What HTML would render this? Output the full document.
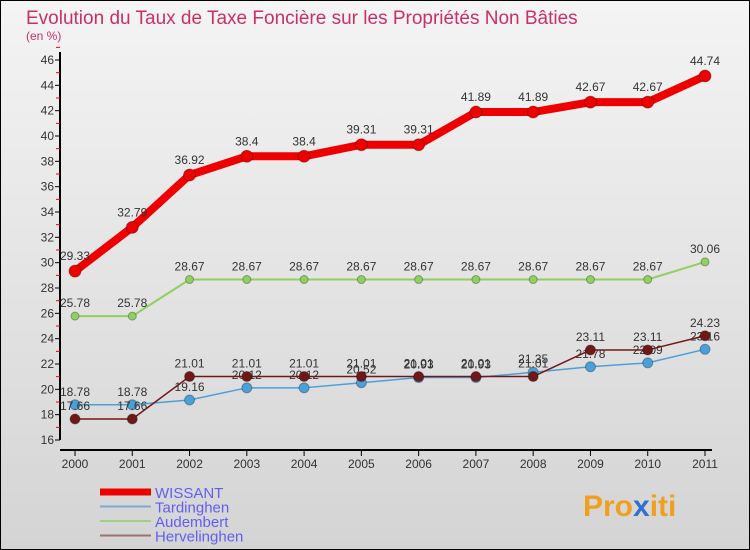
<!DOCTYPE html>
<html><head><meta charset="utf-8"><style>
body{margin:0;}
#wrap{width:750px;height:550px;position:relative;overflow:hidden;}
svg text{font-family:"Liberation Sans",sans-serif;}
</style></head><body>
<div id="wrap">
<svg id="chart" width="750" height="550">
<defs><linearGradient id="bg" x1="0" y1="0" x2="0" y2="1"><stop offset="0" stop-color="#f4f4f4"/><stop offset="1" stop-color="#d4d4d4"/></linearGradient></defs>
<rect x="0.5" y="0.5" width="749" height="549" fill="url(#bg)" stroke="#000"/>
<text x="26" y="24" font-size="19" fill="#c8306a">Evolution du Taux de Taxe Foncière sur les Propriétés Non Bâties</text>
<text x="26" y="40" font-size="12" fill="#c8306a">(en %)</text>
<g id="axes"></g><g id="series"></g><g id="legend"></g>
<text x="583" y="516" font-size="30" font-weight="bold" fill="#f0a020">Pro<tspan fill="#3070d0">x</tspan>iti</text>
</svg></div>
<script>
const years=["2000","2001","2002","2003","2004","2005","2006","2007","2008","2009","2010","2011"];
const wissant=[29.33,32.79,36.92,38.4,38.4,39.31,39.31,41.89,41.89,42.67,42.67,44.74];
const tardinghen=[18.78,18.78,19.16,20.12,20.12,20.52,20.93,20.93,21.35,21.78,22.09,23.16];
const audembert=[25.78,25.78,28.67,28.67,28.67,28.67,28.67,28.67,28.67,28.67,28.67,30.06];
const hervelinghen=[17.66,17.66,21.01,21.01,21.01,21.01,21.01,21.01,21.01,23.11,23.11,24.23];
const yTicks=[16,18,20,22,24,26,28,30,32,34,36,38,40,42,44,46];
const NS="http://www.w3.org/2000/svg";
const x=i=>75+i*(630/(years.length-1));
const y=v=>440-(v-16)*(380/30);
function mk(t,a,p){const e=document.createElementNS(NS,t);for(const k in a)e.setAttribute(k,a[k]);p.appendChild(e);return e;}
const ax=document.getElementById('axes');
const yl=mk('line',{x1:60,y1:52,x2:60,y2:440,stroke:'#000','stroke-width':2},ax);


const xl=mk('line',{x1:60,y1:450,x2:712,y2:450,stroke:'#000','stroke-width':2},ax);


yTicks.forEach(v=>{
 mk('line',{x1:55,y1:y(v),x2:60,y2:y(v),stroke:'#000'},ax);
 mk('line',{x1:56,y1:y(v+1),x2:60,y2:y(v+1),stroke:'#e00'},ax);
 const t=mk('text',{x:54,y:y(v)+4,'text-anchor':'end','font-size':12,fill:'#333'},ax);t.textContent=v;
 
 
});
years.forEach((yr,i)=>{
 mk('line',{x1:x(i),y1:450,x2:x(i),y2:456,stroke:'#000'},ax);
 const t=mk('text',{x:x(i),y:468,'text-anchor':'middle','font-size':12,fill:'#333'},ax);t.textContent=yr;
 
 
});
const sg=document.getElementById('series');
function series(data,color,w,r,name,dy){
 const g=mk('g',{},sg);
 
 
 mk('polyline',{points:data.map((v,i)=>x(i)+','+y(v)).join(' '),fill:'none',stroke:color,'stroke-width':w,'stroke-linejoin':'round'},g);
 data.forEach((v,i)=>{
  const c=mk('circle',{cx:x(i),cy:y(v),r:r,fill:color,stroke:'rgba(0,0,0,0.3)'},g);
  
  
  const t=mk('text',{x:x(i),y:y(v)+dy,'text-anchor':'middle','font-size':12,fill:'#333'},g);t.textContent=v;
  
  
 });
}
series(audembert,'#90d060',2,4,'audembert',-9);
series(tardinghen,'#4aa0d8',1.5,5,'tardinghen',-9);
series(hervelinghen,'#701818',1.5,5,'hervelinghen',-9);
series(wissant,'#ee0000',8,6,'wissant',-11);
const lg=document.getElementById('legend');
const items=[['WISSANT','#ee0000',7],['Tardinghen','#7aaad0',2],['Audembert','#a0d080',2],['Hervelinghen','#a07070',2]];
items.forEach((it,i)=>{
 const yy=492+i*14.5;
 mk('line',{x1:100,y1:yy,x2:151,y2:yy,stroke:it[1],'stroke-width':it[2]},lg);
 const t=mk('text',{x:155,y:yy+6,'font-size':15,fill:'#6060f0'},lg);t.textContent=it[0];
 
 
});
</script></body></html>
